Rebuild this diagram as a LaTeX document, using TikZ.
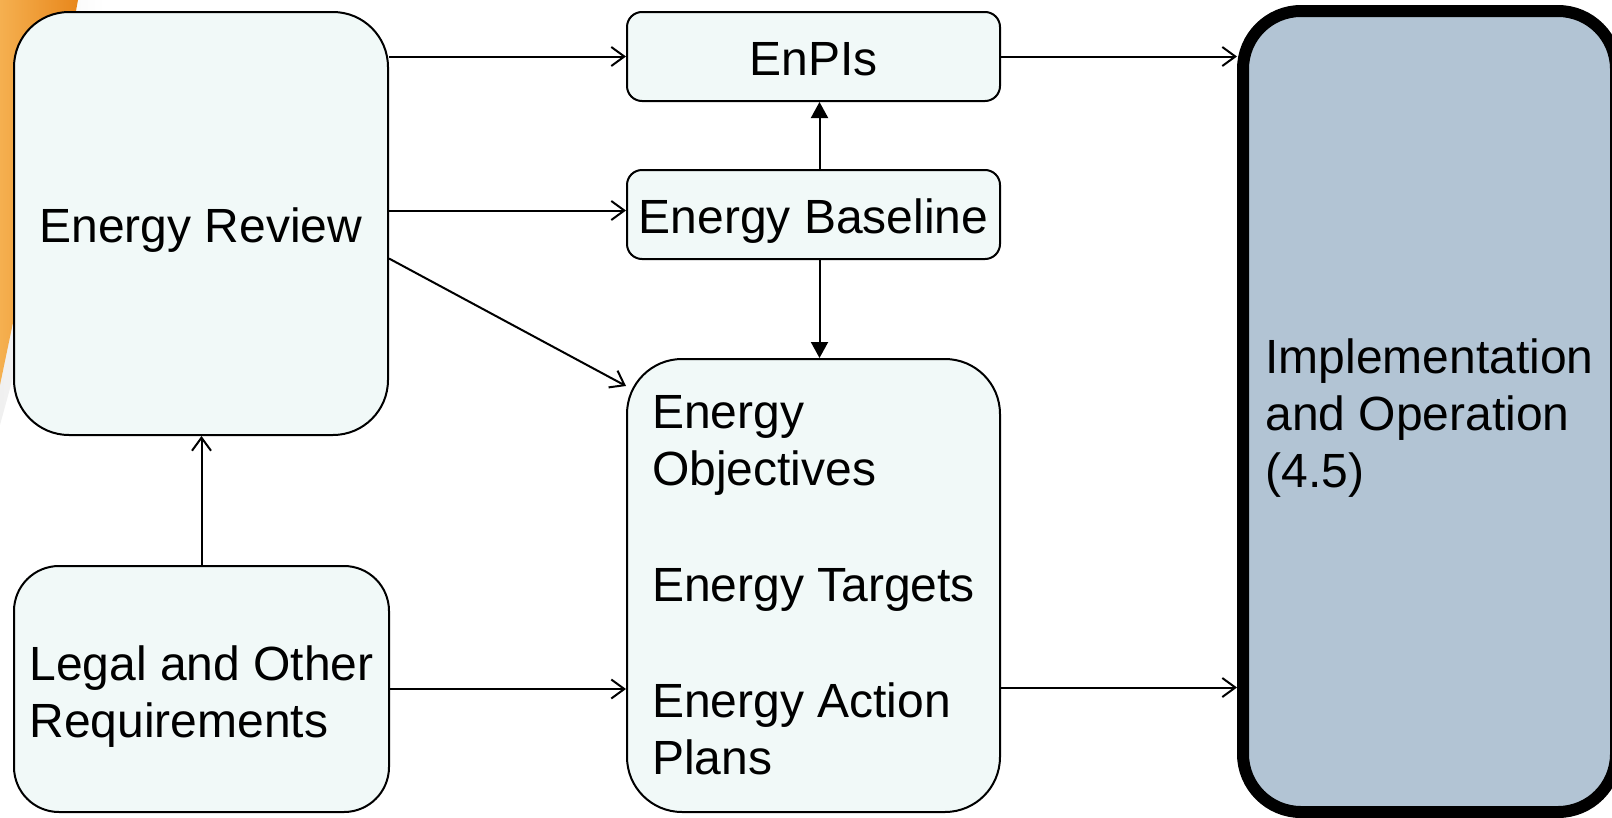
\documentclass[tikz,border=0pt]{standalone}
\usepackage{fontspec}
\setmainfont{Liberation Sans}
\usetikzlibrary{arrows.meta,fadings}

\definecolor{boxfill}{HTML}{F1F9F8}
\definecolor{implfill}{HTML}{B2C4D4}
\definecolor{glowdark}{HTML}{E8871C}
\definecolor{glowlight}{HTML}{F5B050}

\begin{document}
\begin{tikzpicture}[x=1pt,y=-1pt,
  label font/.style={font=\fontsize{48}{57}\selectfont},
  box/.style={label font, draw=black, line width=2pt, fill=boxfill,
    rectangle, inner sep=0pt, align=left},
  oneline/.style={text height=47pt, text depth=10pt},
  implbox/.style={box, line width=12pt, fill=implfill},
  openarr/.style={draw, line width=2pt,
    -{Straight Barb[length=13pt,width=19pt]}},
  filledarr/.style={draw, line width=2pt,
    -{Triangle[length=16pt,width=17pt]}}
]
\useasboundingbox (0,0) rectangle (1612,817);
\clip (0,0) rectangle (1612,817);

% soft orange glow behind the top left corner
\fill[gray!12, path fading=east]
  (0,0) -- (105,0) .. controls (80,120) and (40,280) .. (0,425) -- cycle;
\shade[left color=glowlight, right color=glowdark]
  (0,0) -- (78,0) .. controls (58,110) and (28,250) .. (0,385) -- cycle;

% boxes
\node[box, oneline, rounded corners=55pt, minimum width=374pt, minimum height=423pt]
  (er) at (201,223.5) {Energy Review};
\node[box, text height=106pt, rounded corners=45pt, minimum width=375pt, minimum height=246pt]
  (legal) at (201.5,689) {Legal and Other\\Requirements};
\node[box, oneline, rounded corners=15pt, minimum width=373pt, minimum height=89pt]
  (enpi) at (813.5,56.5) {EnPIs};
\node[box, oneline, rounded corners=15pt, minimum width=373pt, minimum height=89pt]
  (base) at (813.5,214.5) {Energy Baseline};
\node[box, rounded corners=55pt, minimum width=373pt, minimum height=453pt]
  (obj) at (813.5,585.5)
  {Energy\\Objectives\\[59pt]Energy Targets\\[59pt]Energy Action\\Plans};
\node[implbox, text height=161pt, rounded corners=58pt, minimum width=373pt, minimum height=801pt]
  (impl) at (1429.5,411.5) {Implementation\\and Operation\\(4.5)};

% connection points off the box centres
\coordinate (baseIn) at ([yshift=4pt]base.west);
\coordinate (baseUp) at ([xshift=6pt]base.north);
\coordinate (baseDown) at ([xshift=6pt]base.south);
\coordinate (erDiag) at ([yshift=-35pt]er.east);
\coordinate (objDiag) at ([yshift=-28pt]obj.north west);
\coordinate (objOut) at ([yshift=-102pt]obj.east);

% connectors
\path[openarr] (enpi.west -| er.east) -- (enpi.west);
\path[openarr] (baseIn -| er.east) -- (baseIn);
\path[openarr] (erDiag) -- (objDiag);
\path[openarr] (legal.north) -- (legal.north |- er.south);
\path[openarr] (legal.east) -- (legal.east -| obj.west);
\path[filledarr] (baseUp) -- (baseUp |- enpi.south);
\path[filledarr] (baseDown) -- (baseDown |- obj.north);
\path[openarr] (enpi.east) -- (enpi.east -| impl.west);
\path[openarr] (objOut) -- (objOut -| impl.west);
\end{tikzpicture}
\end{document}
